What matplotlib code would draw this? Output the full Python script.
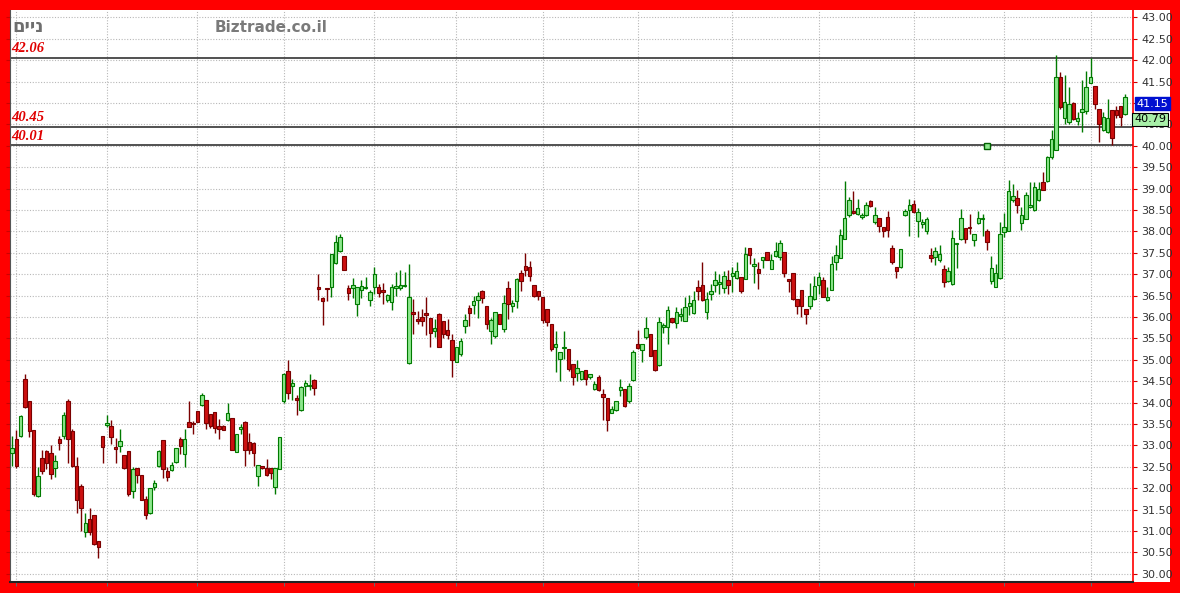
import matplotlib
matplotlib.use("Agg")
import matplotlib.pyplot as plt
from matplotlib.patches import Rectangle
from matplotlib.transforms import blended_transform_factory

# daily candles, oldest first
OPEN = [
    32.82, 33.14, 33.21, 34.56, 34.05, 33.37, 31.83, 32.70, 32.86, 32.82,
    32.47, 33.14, 33.21, 34.03, 33.33, 32.53, 32.05, 30.98, 31.28, 31.38,
    30.76, 33.23, 33.48, 33.45, 32.97, 32.98, 32.78, 32.88, 31.94, 32.48,
    32.31, 31.75, 31.42, 32.02, 32.51, 33.12, 32.41, 32.43, 32.62, 33.16,
    32.80, 33.56, 33.52, 33.81, 33.94, 34.06, 33.73, 33.79, 33.46, 33.46,
    33.60, 33.65, 32.85, 33.38, 33.55, 33.09, 33.05, 32.28, 32.51, 32.47,
    32.47, 32.02, 32.45, 34.03, 34.74, 34.40, 34.11, 33.82, 34.40, 34.38,
    34.54, 36.70, 36.45, 36.67, 36.70, 37.27, 37.55, 37.43, 36.69, 36.69,
    36.31, 36.63, 36.68, 36.39, 36.70, 36.70, 36.63, 36.41, 36.35, 36.69,
    36.69, 36.72, 34.92, 36.12, 35.96, 36.00, 36.09, 35.98, 35.67, 36.08,
    35.92, 35.70, 35.47, 34.95, 35.13, 35.79, 36.21, 36.28, 36.40, 36.60,
    36.25, 35.68, 35.56, 36.08, 35.72, 36.67, 36.25, 36.38, 37.04, 37.20,
    37.18, 36.75, 36.61, 36.46, 36.20, 35.83, 35.31, 35.02, 35.27, 35.26,
    34.90, 34.70, 34.56, 34.77, 34.61, 34.33, 34.61, 34.20, 34.10, 33.77,
    33.83, 34.30, 34.33, 34.04, 34.54, 35.37, 35.22, 35.53, 35.61, 35.22,
    34.88, 35.77, 35.77, 35.98, 35.87, 36.02, 35.92, 36.26, 36.10, 36.70,
    36.76, 36.12, 36.55, 36.76, 36.78, 36.68, 36.86, 36.97, 36.91, 36.94,
    36.90, 37.62, 37.20, 37.13, 37.33, 37.52, 37.13, 37.43, 37.41, 37.51,
    36.88, 37.04, 36.43, 36.64, 36.18, 36.27, 36.43, 36.74, 36.86, 36.40,
    36.63, 37.29, 37.38, 37.82, 38.38, 38.47, 38.40, 38.34, 38.39, 38.72,
    38.21, 38.32, 38.10, 38.34, 37.62, 37.17, 37.17, 38.38, 38.50, 38.65,
    38.24, 38.18, 38.00, 37.46, 37.41, 37.33, 37.13, 36.84, 36.78, 37.70,
    37.83, 38.07, 38.10, 37.79, 38.20, 38.28, 38.00, 36.84, 36.71, 36.92,
    37.99, 38.01, 38.73, 38.79, 38.19, 38.30, 38.58, 38.50, 38.73, 39.16,
    39.18, 39.74, 39.90, 41.61, 40.64, 40.56, 41.01, 40.58, 40.79, 40.81,
    41.48, 41.40, 40.86, 40.37, 40.33, 40.83, 40.83, 40.93, 40.75,
]
HIGH = [
    33.23, 33.35, 33.72, 34.66, 34.05, 33.37, 32.49, 32.90, 32.90, 33.00,
    32.77, 33.23, 33.78, 34.08, 33.39, 32.73, 32.10, 31.42, 31.55, 31.38,
    30.76, 33.23, 33.72, 33.60, 33.17, 33.39, 32.78, 32.88, 32.49, 32.48,
    32.31, 31.83, 32.00, 32.20, 32.90, 33.12, 32.49, 32.62, 32.95, 33.19,
    33.38, 34.04, 33.57, 33.81, 34.22, 34.06, 33.73, 33.79, 33.63, 33.47,
    34.00, 33.65, 33.26, 33.50, 33.57, 33.30, 33.07, 32.54, 32.52, 32.68,
    32.48, 32.47, 33.19, 34.70, 35.00, 34.56, 34.19, 34.39, 34.54, 34.68,
    34.55, 37.00, 36.46, 36.68, 37.47, 37.91, 37.94, 37.43, 36.74, 36.92,
    36.70, 36.86, 36.94, 36.64, 37.16, 36.78, 36.80, 36.53, 36.78, 37.05,
    37.09, 37.05, 37.23, 36.43, 36.14, 36.20, 36.48, 35.98, 35.96, 36.10,
    35.92, 35.96, 35.61, 35.31, 35.50, 36.07, 36.28, 36.49, 36.59, 36.63,
    36.25, 35.99, 36.12, 36.08, 36.51, 36.84, 36.40, 36.92, 37.10, 37.49,
    37.31, 36.75, 36.62, 36.46, 36.20, 35.83, 35.68, 35.19, 35.68, 35.26,
    34.90, 35.00, 34.75, 34.77, 34.68, 34.50, 34.64, 34.32, 34.10, 33.93,
    34.04, 34.55, 34.33, 34.47, 35.22, 35.69, 35.37, 36.00, 35.61, 35.22,
    36.00, 35.87, 36.27, 35.99, 36.23, 36.22, 36.47, 36.52, 36.62, 36.86,
    37.29, 36.59, 36.78, 37.07, 37.00, 37.07, 37.09, 37.18, 37.29, 36.94,
    37.64, 37.62, 37.38, 37.29, 37.41, 37.52, 37.48, 37.76, 37.80, 37.51,
    36.90, 37.04, 36.43, 36.64, 36.18, 36.80, 36.96, 37.06, 36.94, 36.70,
    37.43, 37.68, 38.05, 39.19, 38.81, 38.94, 38.77, 38.44, 38.69, 38.73,
    38.57, 38.32, 38.10, 38.49, 37.69, 37.17, 37.60, 38.53, 38.75, 38.73,
    38.55, 38.30, 38.34, 37.62, 37.64, 37.69, 37.21, 37.17, 38.03, 37.74,
    38.52, 38.07, 38.42, 37.95, 38.47, 38.42, 38.05, 37.43, 37.25, 38.21,
    38.44, 39.20, 39.12, 38.96, 38.58, 38.93, 39.16, 39.16, 39.16, 39.39,
    39.76, 40.37, 42.12, 41.73, 41.65, 41.38, 41.02, 40.79, 41.53, 41.74,
    42.05, 41.40, 40.86, 40.79, 41.10, 40.83, 40.93, 40.93, 41.22,
]
LOW = [
    32.53, 32.47, 33.19, 33.87, 33.20, 31.83, 31.80, 32.34, 32.45, 32.22,
    32.26, 32.90, 33.15, 32.60, 32.49, 31.42, 31.00, 30.85, 30.90, 30.68,
    30.38, 32.59, 33.43, 33.04, 32.60, 32.84, 32.45, 31.83, 31.77, 32.12,
    31.73, 31.28, 31.40, 31.97, 32.50, 32.23, 32.18, 32.40, 32.60, 32.80,
    32.49, 33.42, 33.26, 33.54, 33.92, 33.38, 33.40, 33.30, 33.15, 33.36,
    33.58, 32.89, 32.85, 33.26, 32.53, 32.80, 32.53, 32.05, 32.46, 32.29,
    32.22, 31.87, 32.45, 34.00, 34.09, 34.07, 33.72, 33.80, 34.15, 34.30,
    34.19, 36.39, 35.82, 36.38, 36.48, 37.25, 37.53, 37.09, 36.39, 36.45,
    36.02, 36.45, 36.66, 36.27, 36.55, 36.48, 36.30, 36.36, 36.17, 36.50,
    36.63, 36.70, 34.90, 35.60, 35.84, 35.80, 35.57, 35.30, 35.53, 35.30,
    35.50, 35.49, 34.59, 34.94, 35.10, 35.62, 35.80, 36.07, 35.99, 36.34,
    35.72, 35.37, 35.50, 35.83, 35.64, 35.96, 36.12, 36.22, 36.61, 36.95,
    36.84, 36.48, 36.40, 35.86, 35.79, 35.21, 34.72, 34.51, 35.02, 34.74,
    34.41, 34.51, 34.54, 34.41, 34.55, 34.30, 34.28, 33.60, 33.34, 33.75,
    33.80, 34.16, 33.91, 34.00, 34.50, 35.26, 34.95, 35.49, 35.09, 34.75,
    34.86, 35.63, 35.38, 35.87, 35.74, 35.92, 35.92, 36.05, 36.08, 36.39,
    36.37, 35.95, 36.39, 36.59, 36.53, 36.57, 36.55, 36.59, 36.90, 36.57,
    36.90, 37.23, 36.80, 36.66, 37.15, 37.33, 37.12, 37.41, 37.33, 36.94,
    36.59, 36.40, 36.08, 36.00, 35.84, 36.20, 36.40, 36.55, 36.47, 36.38,
    36.63, 37.10, 37.38, 37.82, 38.34, 38.42, 38.38, 38.30, 38.37, 38.58,
    38.18, 37.99, 37.87, 37.87, 37.25, 36.92, 37.15, 38.36, 37.90, 38.44,
    37.87, 38.08, 37.93, 37.29, 37.21, 37.29, 36.71, 36.82, 36.74, 37.15,
    37.80, 37.74, 37.93, 37.66, 38.18, 37.90, 37.56, 36.78, 36.70, 36.90,
    37.88, 38.00, 38.69, 38.44, 38.03, 38.28, 38.54, 38.48, 38.72, 38.96,
    39.16, 39.70, 39.90, 40.87, 40.52, 40.52, 40.60, 40.48, 40.33, 40.75,
    41.46, 40.86, 40.09, 40.35, 40.31, 40.02, 40.64, 40.47, 40.72,
]
CLOSE = [
    32.95, 32.53, 33.70, 33.90, 33.33, 31.87, 32.28, 32.41, 32.60, 32.34,
    32.63, 33.06, 33.72, 33.14, 32.53, 31.73, 31.55, 31.18, 30.97, 30.70,
    30.62, 32.96, 33.52, 33.20, 32.92, 33.11, 32.48, 31.87, 32.44, 32.31,
    31.73, 31.38, 32.00, 32.12, 32.88, 32.45, 32.26, 32.54, 32.95, 32.99,
    33.16, 33.44, 33.50, 33.56, 34.19, 33.52, 33.46, 33.40, 33.38, 33.37,
    33.75, 32.89, 33.26, 33.42, 32.90, 32.90, 32.82, 32.54, 32.47, 32.30,
    32.35, 32.47, 33.19, 34.68, 34.23, 34.45, 34.07, 34.37, 34.45, 34.42,
    34.35, 36.66, 36.38, 36.65, 37.47, 37.76, 37.88, 37.09, 36.56, 36.74,
    36.70, 36.72, 36.71, 36.59, 37.00, 36.56, 36.59, 36.51, 36.70, 36.71,
    36.76, 36.75, 36.48, 36.08, 35.90, 35.92, 36.04, 35.62, 35.75, 35.30,
    35.60, 35.57, 35.00, 35.31, 35.43, 35.93, 36.10, 36.38, 36.49, 36.44,
    35.83, 35.93, 36.12, 35.83, 36.34, 36.30, 36.32, 36.88, 36.84, 37.10,
    36.96, 36.49, 36.49, 35.93, 35.89, 35.25, 35.37, 35.19, 35.29, 34.78,
    34.59, 34.80, 34.74, 34.56, 34.67, 34.43, 34.30, 34.14, 33.60, 33.85,
    34.04, 34.36, 33.93, 34.39, 35.18, 35.27, 35.37, 35.74, 35.10, 34.77,
    35.88, 35.82, 36.16, 35.88, 36.13, 36.08, 36.23, 36.34, 36.39, 36.60,
    36.39, 36.43, 36.60, 36.86, 36.80, 36.96, 36.76, 37.02, 37.07, 36.60,
    37.48, 37.46, 37.24, 37.02, 37.41, 37.33, 37.33, 37.54, 37.74, 37.02,
    36.84, 36.43, 36.27, 36.25, 36.08, 36.50, 36.73, 36.94, 36.47, 36.47,
    37.25, 37.46, 37.91, 38.32, 38.73, 38.44, 38.55, 38.39, 38.61, 38.60,
    38.38, 38.13, 38.00, 38.03, 37.29, 37.07, 37.60, 38.49, 38.61, 38.46,
    38.46, 38.22, 38.28, 37.37, 37.54, 37.48, 36.81, 37.07, 37.85, 37.74,
    38.32, 37.83, 38.07, 37.95, 38.32, 38.30, 37.76, 37.15, 37.02, 37.95,
    38.11, 38.94, 38.83, 38.61, 38.38, 38.85, 38.62, 39.04, 39.00, 38.96,
    39.74, 40.17, 41.61, 40.91, 41.03, 40.99, 40.62, 40.65, 40.87, 41.38,
    41.61, 40.99, 40.52, 40.68, 40.64, 40.19, 40.73, 40.68, 41.15,
]

MONTH_STARTS = [1, 22, 43, 63, 84, 103, 123, 145, 167, 187, 209, 230, 250]
LEVELS = [42.06, 40.45, 40.01]
LEVEL_LABELS = ["42.06", "40.45", "40.01"]
LAST_PRICE = 41.15
AVG_PRICE = 40.79
ANCHOR_IDX = 226
ANCHOR_PRICE = 40.0
Y_TICKS = [30 + 0.5 * k for k in range(27)]
HIDDEN_TICK = 41.0  # sits fully under the last-price tag

W, H = 1180, 593
fig = plt.figure(figsize=(W / 100, H / 100), dpi=100, facecolor="#ff0000")

# white strip behind the price labels (drawn under the axes)
fig.patches.append(Rectangle((1133 / W, (H - 582) / H), (1170 - 1133) / W,
                             (582 - 10) / H, transform=fig.transFigure,
                             facecolor="white", edgecolor="none", zorder=-5))

# plot area in pixels: x 10..1133, y 10..582
ax_l, ax_r, ax_t, ax_b = 10, 1133, 10, 582
ax = fig.add_axes([ax_l / W, (H - ax_b) / H, (ax_r - ax_l) / W, (ax_b - ax_t) / H])
ax.set_facecolor("white")

n = len(CLOSE)
for i in range(n):
    up = CLOSE[i] >= OPEN[i]
    edge = "#007a00" if up else "#7a0000"
    face = "#8ee88e" if up else "#cc1010"
    ax.vlines(i, LOW[i], HIGH[i], color=edge, lw=1.0, zorder=3)
    lo = min(OPEN[i], CLOSE[i])
    hi = max(OPEN[i], CLOSE[i])
    h = max(hi - lo, 0.03)
    ax.add_patch(Rectangle((i - 0.4, lo), 0.8, h, facecolor=face,
                           edgecolor=edge, lw=0.8, zorder=4))

bt = blended_transform_factory(ax.transAxes, ax.transData)
for lvl, lab in zip(LEVELS, LEVEL_LABELS):
    ax.axhline(lvl, color="#333333", lw=1.2, zorder=2)
    ax.text(0.0015, lvl + 0.06, lab, transform=bt,
            color="#e00000", fontsize=10.5, fontstyle="italic", fontweight="bold",
            family="Liberation Serif", va="bottom", ha="left")

ax.plot(ANCHOR_IDX, ANCHOR_PRICE, marker="s", ms=5, mfc="#8ee88e", mec="#006000",
        mew=1, zorder=5)

ax.set_xlim(-0.46, 259.85)
ax.set_ylim(29.81, 43.175)
ax.set_yticks(Y_TICKS)
ax.set_yticklabels(["" if v == HIDDEN_TICK else f"{v:.2f}" for v in Y_TICKS])
ax.yaxis.tick_right()
ax.tick_params(axis="y", which="both", right=True, left=True, length=3,
               color="#cc0000", labelsize=8, labelcolor="#333333", pad=3)
ax.set_xticks(MONTH_STARTS)
ax.set_xticklabels([])
ax.tick_params(axis="x", length=3, color="#666666")
ax.grid(True, color="#b8b8b8", lw=0.8, linestyle=(0, (1, 1.5)), zorder=0)
ax.set_axisbelow(True)

ax.spines["top"].set_visible(False)
ax.spines["right"].set_color("#ff0000")
ax.spines["right"].set_linewidth(1.2)
ax.spines["left"].set_color("#555555")
ax.spines["bottom"].set_color("#222222")
ax.spines["bottom"].set_linewidth(1.5)

# price tags hang below their price level, like the source chart
ax.text(1.003, LAST_PRICE - 0.05, f"{LAST_PRICE:.2f}", transform=bt, color="white",
        fontsize=8, va="top", ha="left", zorder=6,
        bbox=dict(boxstyle="square,pad=0.15", facecolor="#0010d0", edgecolor="#0010d0"))
ax.text(1.001, AVG_PRICE - 0.05, f"{AVG_PRICE:.2f}", transform=bt, color="black",
        fontsize=8, va="top", ha="left", zorder=6,
        bbox=dict(boxstyle="square,pad=0.15", facecolor="#a8f0a8", edgecolor="black", lw=0.8))

fig.text(12 / W, 1 - 27 / H, "םיינ", color="#6e6e6e", fontsize=13, fontweight="bold",
         va="center", ha="left")
fig.text(215 / W, 1 - 27 / H, "Biztrade.co.il", color="#7a7a7a", fontsize=11,
         fontweight="bold", va="center", ha="left")

fig.savefig("out.png", dpi=100, facecolor=fig.get_facecolor())
